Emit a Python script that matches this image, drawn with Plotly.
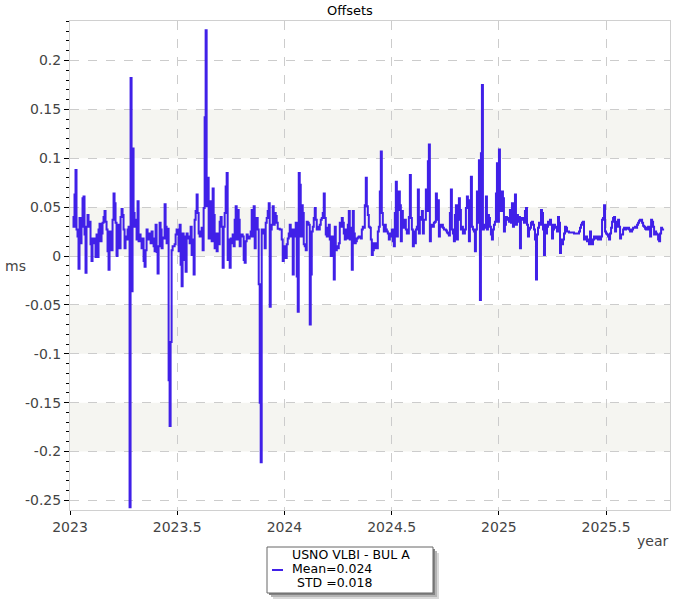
import plotly.graph_objects as go

# ---- data (one sample per ~1.7 days) ----
start_year = 2023.0117    # first epoch (decimal year)
step_days = 1.705         # sampling cadence
offsets = [
    0.040, 0.030, 0.063, 0.088, 0.027, 0.020, -0.013, 0.039, 0.013, 0.030,
    0.059, 0.061, 0.022, -0.017, 0.030, 0.042, 0.030, 0.035, 0.012, -0.005,
    0.018, 0.013, 0.018, -0.001, 0.022, -0.001, 0.027, 0.033, 0.015, 0.023,
    0.034, 0.040, 0.046, 0.035, 0.027, 0.005, -0.014, 0.025, 0.017, 0.006,
    0.037, 0.064, 0.054, 0.034, 0.000, 0.012, 0.032, 0.008, 0.040, 0.048,
    0.042, 0.027, 0.008, 0.020, 0.017, 0.027, 0.030, -0.257, 0.182, -0.036,
    0.110, 0.044, 0.030, 0.037, 0.017, 0.056, 0.015, 0.022, 0.018, 0.008,
    0.018, -0.005, -0.011, 0.006, 0.027, 0.018, 0.017, 0.023, 0.013, 0.025,
    0.018, 0.010, 0.005, 0.032, 0.004, -0.018, 0.010, 0.034, 0.027, 0.008,
    0.019, 0.018, 0.053, 0.030, 0.013, 0.028, -0.127, -0.174, -0.088, 0.006,
    0.010, 0.010, 0.012, 0.022, 0.027, 0.025, 0.005, 0.032, -0.009, -0.031,
    0.023, 0.020, -0.004, -0.016, 0.023, 0.018, 0.020, 0.013, 0.030, 0.001,
    0.017, -0.019, 0.037, 0.046, 0.063, 0.044, 0.023, 0.020, 0.025, 0.029,
    0.006, 0.049, 0.142, 0.231, 0.051, 0.080, 0.018, 0.025, 0.056, 0.015,
    0.069, 0.042, 0.008, 0.023, 0.005, 0.023, 0.012, 0.035, 0.040, 0.030,
    -0.012, 0.030, 0.044, 0.071, 0.085, -0.004, 0.017, -0.012, 0.018, 0.013,
    0.022, 0.010, 0.037, 0.051, 0.017, 0.047, 0.037, 0.010, 0.020, 0.022,
    0.020, -0.004, -0.007, 0.015, 0.022, 0.020, 0.018, 0.020, 0.025, 0.047,
    0.020, 0.051, 0.008, 0.027, 0.039, 0.027, -0.029, -0.150, -0.211, 0.027,
    0.023, 0.027, 0.008, 0.034, 0.039, 0.046, 0.054, -0.052, 0.027, 0.032,
    0.051, 0.032, 0.044, 0.041, 0.034, 0.028, 0.028, 0.027, 0.027, 0.017,
    -0.005, 0.010, 0.010, -0.002, 0.012, 0.018, 0.023, 0.032, 0.020, 0.027,
    -0.019, 0.020, 0.027, 0.034, -0.021, -0.057, 0.085, 0.073, 0.020, 0.052,
    0.044, 0.012, 0.010, 0.006, 0.035, 0.034, 0.032, -0.070, -0.019, 0.025,
    0.030, 0.039, 0.049, 0.037, 0.027, 0.030, 0.027, 0.032, 0.037, 0.039,
    0.044, 0.064, 0.039, 0.022, 0.020, 0.029, 0.032, 0.017, 0.000, 0.020,
    0.000, -0.024, 0.030, 0.006, 0.010, 0.008, 0.013, 0.034, 0.030, 0.039,
    0.034, 0.023, 0.017, 0.027, 0.018, 0.032, 0.046, 0.017, 0.029, -0.014,
    0.046, 0.023, 0.013, 0.015, 0.018, 0.019, 0.020, 0.020, 0.018, 0.027,
    0.030, 0.029, 0.052, 0.080, 0.051, 0.042, 0.030, 0.029, 0.017, 0.001,
    0.006, 0.013, 0.008, 0.013, 0.008, 0.025, 0.030, 0.066, 0.107, 0.044,
    0.032, 0.025, 0.032, 0.027, 0.025, 0.023, 0.017, 0.023, 0.020, 0.027,
    0.015, 0.010, 0.044, 0.076, 0.020, 0.047, 0.066, 0.052, 0.015, 0.046,
    0.037, 0.029, 0.037, 0.027, 0.023, 0.023, 0.040, 0.083, 0.039, 0.027,
    0.010, 0.025, 0.013, 0.027, 0.030, 0.068, 0.023, 0.040, 0.037, 0.046,
    0.023, 0.037, 0.037, 0.068, 0.046, 0.097, 0.114, 0.015, 0.030, 0.032,
    0.030, 0.034, 0.035, 0.064, 0.037, 0.057, 0.020, 0.030, 0.032, 0.032,
    0.029, 0.027, 0.027, 0.026, 0.024, 0.023, 0.021, 0.044, 0.068, 0.027,
    0.023, 0.015, 0.042, 0.052, 0.017, 0.037, 0.059, 0.047, 0.027, 0.030,
    0.023, 0.023, 0.027, 0.049, 0.061, 0.051, 0.015, 0.057, 0.081, 0.030,
    0.027, 0.025, 0.005, 0.027, 0.066, 0.034, 0.098, -0.045, 0.105, 0.175,
    0.027, 0.029, 0.032, 0.061, 0.027, 0.042, 0.039, 0.030, 0.022, 0.017,
    0.027, 0.032, 0.035, 0.064, 0.095, 0.035, 0.109, 0.049, 0.046, 0.066,
    0.059, 0.025, 0.032, 0.040, 0.037, 0.039, 0.035, 0.047, 0.034, 0.054,
    0.030, 0.040, 0.063, 0.032, 0.042, 0.035, 0.040, 0.008, 0.039, 0.037,
    0.039, 0.034, 0.046, 0.049, 0.032, 0.020, 0.027, 0.029, 0.034, 0.035,
    0.032, 0.027, 0.017, -0.024, 0.022, 0.029, 0.034, 0.032, 0.047, 0.044,
    0.027, 0.001, 0.032, 0.023, 0.030, 0.035, 0.032, 0.037, 0.032, 0.018,
    0.027, 0.032, 0.029, 0.030, 0.025, 0.040, 0.034, 0.003, 0.017, 0.012,
    0.017, 0.023, 0.030, 0.029, 0.025, 0.025, 0.024, 0.024, 0.024, 0.024,
    0.024, 0.023, 0.023, 0.023, 0.023, 0.023, 0.025, 0.029, 0.032, 0.034,
    0.035, 0.017, 0.018, 0.020, 0.015, 0.017, 0.012, 0.025, 0.017, 0.012,
    0.017, 0.020, 0.018, 0.020, 0.018, 0.017, 0.020, 0.017, 0.020, 0.037,
    0.039, 0.052, 0.025, 0.023, 0.022, 0.020, 0.017, 0.023, 0.029, 0.035,
    0.039, 0.040, 0.025, 0.030, 0.035, 0.037, 0.030, 0.018, 0.022, 0.022,
    0.027, 0.029, 0.027, 0.028, 0.029, 0.029, 0.027, 0.025, 0.025, 0.027,
    0.029, 0.029, 0.030, 0.029, 0.032, 0.034, 0.036, 0.037, 0.037, 0.034,
    0.031, 0.030, 0.028, 0.027, 0.029, 0.030, 0.027, 0.020, 0.037, 0.035,
    0.030, 0.022, 0.025, 0.023, 0.022, 0.017, 0.015, 0.023, 0.029, 0.027,
    0.026,
]
years = [start_year + step_days * i / 365.25 for i in range(len(offsets))]

series_name = "USNO VLBI - BUL A"
mean_label = "Mean=0.024"
std_label = "STD =0.018"

x_tickvals = [2023, 2023.5, 2024, 2024.5, 2025, 2025.5]
x_ticktext = ["2023", "2023.5", "2024", "2024.5", "2025", "2025.5"]
y_tickvals = [-0.25, -0.2, -0.15, -0.1, -0.05, 0, 0.05, 0.1, 0.15, 0.2]
y_ticktext = ["-0.25", "-0.2", "-0.15", "-0.1", "-0.05", "0", "0.05", "0.1", "0.15", "0.2"]
bands = [(0.1, 0.15), (0.0, 0.05), (-0.1, -0.05), (-0.2, -0.15)]

# ---- style / layout ----
LINE = "#4020e8"
FONT = "DejaVu Sans"
W, H = 700, 600
L, R, T, B = 70, 30, 21, 90
PW, PH = W - L - R, H - T - B


def px(x):
    return (x - L) / PW


def py(y):
    return (H - B - y) / PH


fig = go.Figure()
fig.add_trace(go.Scatter(
    x=years, y=offsets, mode="lines",
    line=dict(color=LINE, width=2, shape="hv"),
    showlegend=False, hoverinfo="skip",
))

shapes = []
for y0, y1 in bands:
    shapes.append(dict(type="rect", xref="paper", yref="y", x0=0, x1=1, y0=y0, y1=y1,
                       fillcolor="#f5f5f1", line=dict(width=0), layer="below"))

# legend box with drop shadow
bx0, by0, bx1, by1 = 267, 547, 433, 593
for off, col in [(6, "#dadada"), (4, "#b4b4b4"), (2, "#848484")]:
    shapes.append(dict(type="rect", xref="paper", yref="paper",
                       x0=px(bx0 + off), x1=px(bx1 + off), y0=py(by0 + off), y1=py(by1 + off),
                       fillcolor=col, line=dict(width=0), layer="above"))
shapes.append(dict(type="rect", xref="paper", yref="paper",
                   x0=px(bx0), x1=px(bx1), y0=py(by0), y1=py(by1),
                   fillcolor="white", line=dict(color="#666666", width=1), layer="above"))
shapes.append(dict(type="line", xref="paper", yref="paper",
                   x0=px(272), x1=px(283), y0=py(570), y1=py(570),
                   line=dict(color=LINE, width=2), layer="above"))


def label(text, x, y, size, color, xanchor="left"):
    return dict(text=text, x=px(x), y=py(y), xref="paper", yref="paper",
                showarrow=False, font=dict(family=FONT, size=size, color=color),
                xanchor=xanchor, yanchor="middle", borderpad=0)


annotations = [
    label("Offsets", 350, 10.5, 13, "black", "center"),
    label("ms", 15, 266, 14, "#444444", "center"),
    label("year", 669, 541, 14, "#444444", "right"),
    label(series_name, 291, 554, 12.5, "black"),
    label(mean_label, 291, 568.5, 12.5, "black"),
    label(std_label, 296, 583, 12.5, "black"),
]

fig.update_layout(
    width=W, height=H,
    margin=dict(l=L, r=R, t=T, b=B, pad=0),
    paper_bgcolor="white", plot_bgcolor="white",
    font=dict(family=FONT, size=14, color="#444444"),
    shapes=shapes, annotations=annotations,
    showlegend=False,
    xaxis=dict(
        range=[2023, 2025.798], tickvals=x_tickvals, ticktext=x_ticktext,
        showgrid=True, gridcolor="#cccccc", griddash="dash", gridwidth=1,
        zeroline=False, showline=True, mirror=True, linecolor="#d0d0d0", linewidth=1,
        ticks="outside", ticklen=4, tickcolor="black", tickwidth=1,
        tickfont=dict(family=FONT, size=14, color="#444444"),
    ),
    yaxis=dict(
        range=[-0.2598, 0.2404], tickvals=y_tickvals, ticktext=y_ticktext,
        showgrid=True, gridcolor="#cccccc", griddash="dash", gridwidth=1,
        zeroline=False, showline=True, mirror=True, linecolor="#d0d0d0", linewidth=1,
        ticks="outside", ticklen=5, tickcolor="black", tickwidth=1,
        tickfont=dict(family=FONT, size=14, color="#444444"),
        minor=dict(dtick=0.01, tick0=0, ticks="outside", ticklen=3, tickcolor="black",
                   showgrid=False),
    ),
)

fig.write_html("out.html", config={"displayModeBar": False},
               post_script="document.body.style.margin='0';")
